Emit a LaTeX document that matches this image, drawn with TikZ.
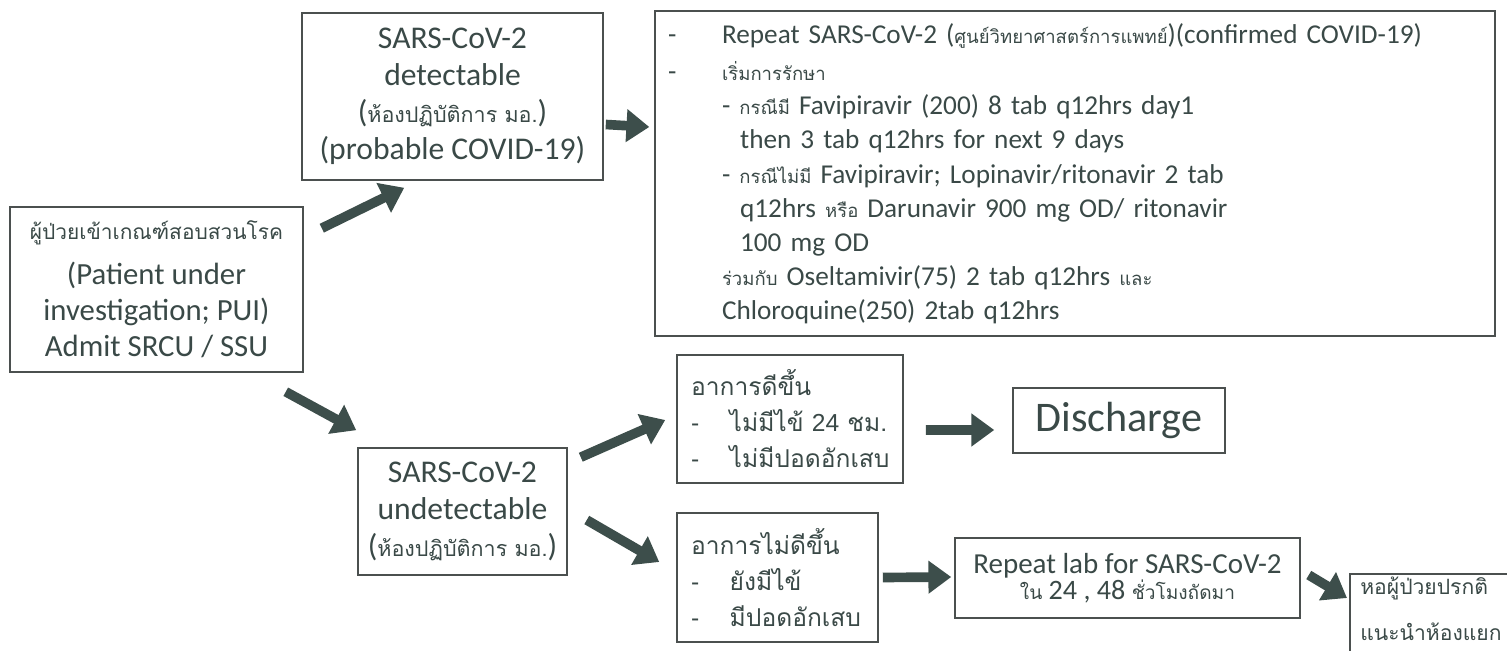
\documentclass[tikz,border=0pt]{standalone}
\usepackage{fontspec}
\setmainfont{Carlito}
\newfontfamily\thaifont[Script=Thai,Scale=0.68]{Loma}
\newfontfamily\thaiplain[Script=Thai]{Loma}
\newfontfamily\arialfont{Liberation Sans}
\usepackage{tikz}
\usetikzlibrary{positioning,calc,arrows.meta}
\newcommand{\tha}[1]{{\thaifont #1}}
\newcommand{\thb}[1]{{\thaiplain #1}}
\newcommand{\dashitem}{\makebox[30.7pt][l]{-}}
\definecolor{inkcol}{HTML}{3A4947}
\definecolor{arrowcol}{HTML}{3D4E4B}
\definecolor{boxcol}{HTML}{4B504F}
\tikzset{
  box/.style={draw=boxcol, line width=0.9pt, text=inkcol, inner sep=0pt, align=center},
  listbox/.style={box, align=left},
  bigarrow/.style={draw=arrowcol, line width=5.5pt, -{Triangle[length=13pt,width=18pt]}}
}

\begin{document}
\begin{tikzpicture}[x=0.02cm, y=-0.02cm]
    \useasboundingbox (0,0) rectangle (1507,651);
    % PUI on the left
    \node[box, minimum width=5.86cm, minimum height=3.30cm, font=\fontsize{17.5}{20.5}\selectfont]
        (pui) at (156.5,289.5) {\tha{ผู้ป่วยเข้าเกณฑ์สอบสวนโรค}\\[5pt](Patient under\\investigation; PUI)\\Admit SRCU / SSU};
    % lab results
    \node[box, minimum width=6.02cm, minimum height=3.34cm, font=\fontsize{18}{21}\selectfont]
        (det) at (452.5,96.5) {SARS-CoV-2\\detectable\\(\tha{ห้องปฏิบัติการ มอ.})\\(probable COVID-19)};
    \node[box, minimum width=4.18cm, minimum height=2.54cm, font=\fontsize{18}{21}\selectfont]
        (undet) at (462.5,511.5) {SARS-CoV-2\\undetectable\\(\tha{ห้องปฏิบัติการ มอ.})};
    % treatment
    \node[listbox, minimum width=16.8cm, minimum height=6.5cm, text width=16.28cm,
          font=\fontsize{15.5}{19.4}\selectfont]
        (treat) at (1075,173.5) {\dashitem Repeat SARS-CoV-2 (\tha{ศูนย์วิทยาศาสตร์การแพทย์})(confirmed COVID-19)\\[2pt]
        \dashitem \tha{เริ่มการรักษา}\\
        \hspace*{30.7pt}- \tha{กรณีมี} Favipiravir (200) 8 tab q12hrs day1\\
        \hspace*{41pt}then 3 tab q12hrs for next 9 days\\
        \hspace*{30.7pt}- \tha{กรณีไม่มี} Favipiravir; Lopinavir/ritonavir 2 tab\\
        \hspace*{41pt}q12hrs \tha{หรือ} Darunavir 900 mg OD/ ritonavir\\
        \hspace*{41pt}100 mg OD\\
        \hspace*{30.7pt}\tha{ร่วมกับ} Oseltamivir(75) 2 tab q12hrs \tha{และ}\\
        \hspace*{30.7pt}Chloroquine(250) 2tab q12hrs};
    % symptoms
    \node[listbox, minimum width=4.52cm, minimum height=2.56cm, text width=3.96cm,
          font=\arialfont\fontsize{14}{20.5}\selectfont]
        (better) at (790,419) {\thb{อาการดีขึ้น}\\
        \makebox[22pt][l]{-}\thb{ไม่มีไข้} 24 \thb{ชม.}\\
        \makebox[22pt][l]{-}\thb{ไม่มีปอดอักเสบ}};
    \node[listbox, minimum width=4.02cm, minimum height=2.58cm, text width=3.46cm,
          font=\arialfont\fontsize{14}{20.5}\selectfont]
        (worse) at (777.5,577.5) {\thb{อาการไม่ดีขึ้น}\\
        \makebox[22pt][l]{-}\thb{ยังมีไข้}\\
        \makebox[22pt][l]{-}\thb{มีปอดอักเสบ}};
    \node[box, minimum width=4.24cm, minimum height=1.30cm, font=\fontsize{24}{28}\selectfont]
        (disch) at (1119,420.5) {Discharge};
    \node[box, minimum width=6.90cm, minimum height=1.60cm, font=\fontsize{16.5}{15}\selectfont]
        (repeat) at (1127.5,578) {Repeat lab for SARS-CoV-2\\{\fontsize{16}{15}\selectfont\tha{ใน} 24 , 48 \tha{ชั่วโมงถัดมา}}};
    % ward box runs past the lower edge
    \node[listbox, anchor=north west, text width=3.0cm, inner xsep=6pt, inner ysep=2pt,
          font=\fontsize{12}{26}\selectfont]
        (ward) at (1349,573) {\thb{หอผู้ป่วยปรกติ}\\\thb{แนะนำห้องแยก}\\\mbox{}};
    % arrows
    \draw[bigarrow] ($(pui.north east)+(18,22)$) -- ($(det.south west)+(103,7)$);
    \draw[bigarrow] ($(pui.south east)+(-18,19)$) -- ($(undet.north west)+(-1,-17)$);
    \draw[bigarrow] ($(det.east)+(2,28)$) -- ($(treat.west)+(-5,-46.5)$);
    \draw[bigarrow] ($(undet.north east)+(13,10)$) -- ($(better.west)+(-11,1)$);
    \draw[bigarrow] ($(undet.east)+(19,8.5)$) -- ($(worse.west)+(-17,-15.5)$);
    \draw[bigarrow] ($(better.east)+(22,11)$) -- ($(disch.west)+(-18,9.5)$);
    \draw[bigarrow] ($(worse.east)+(4,0)$) -- ($(repeat.west)+(-3,-1)$);
    \draw[bigarrow] ($(repeat.east)+(8,-3)$) -- ($(ward.north west)+(-2,25)$);
\end{tikzpicture}
\end{document}
